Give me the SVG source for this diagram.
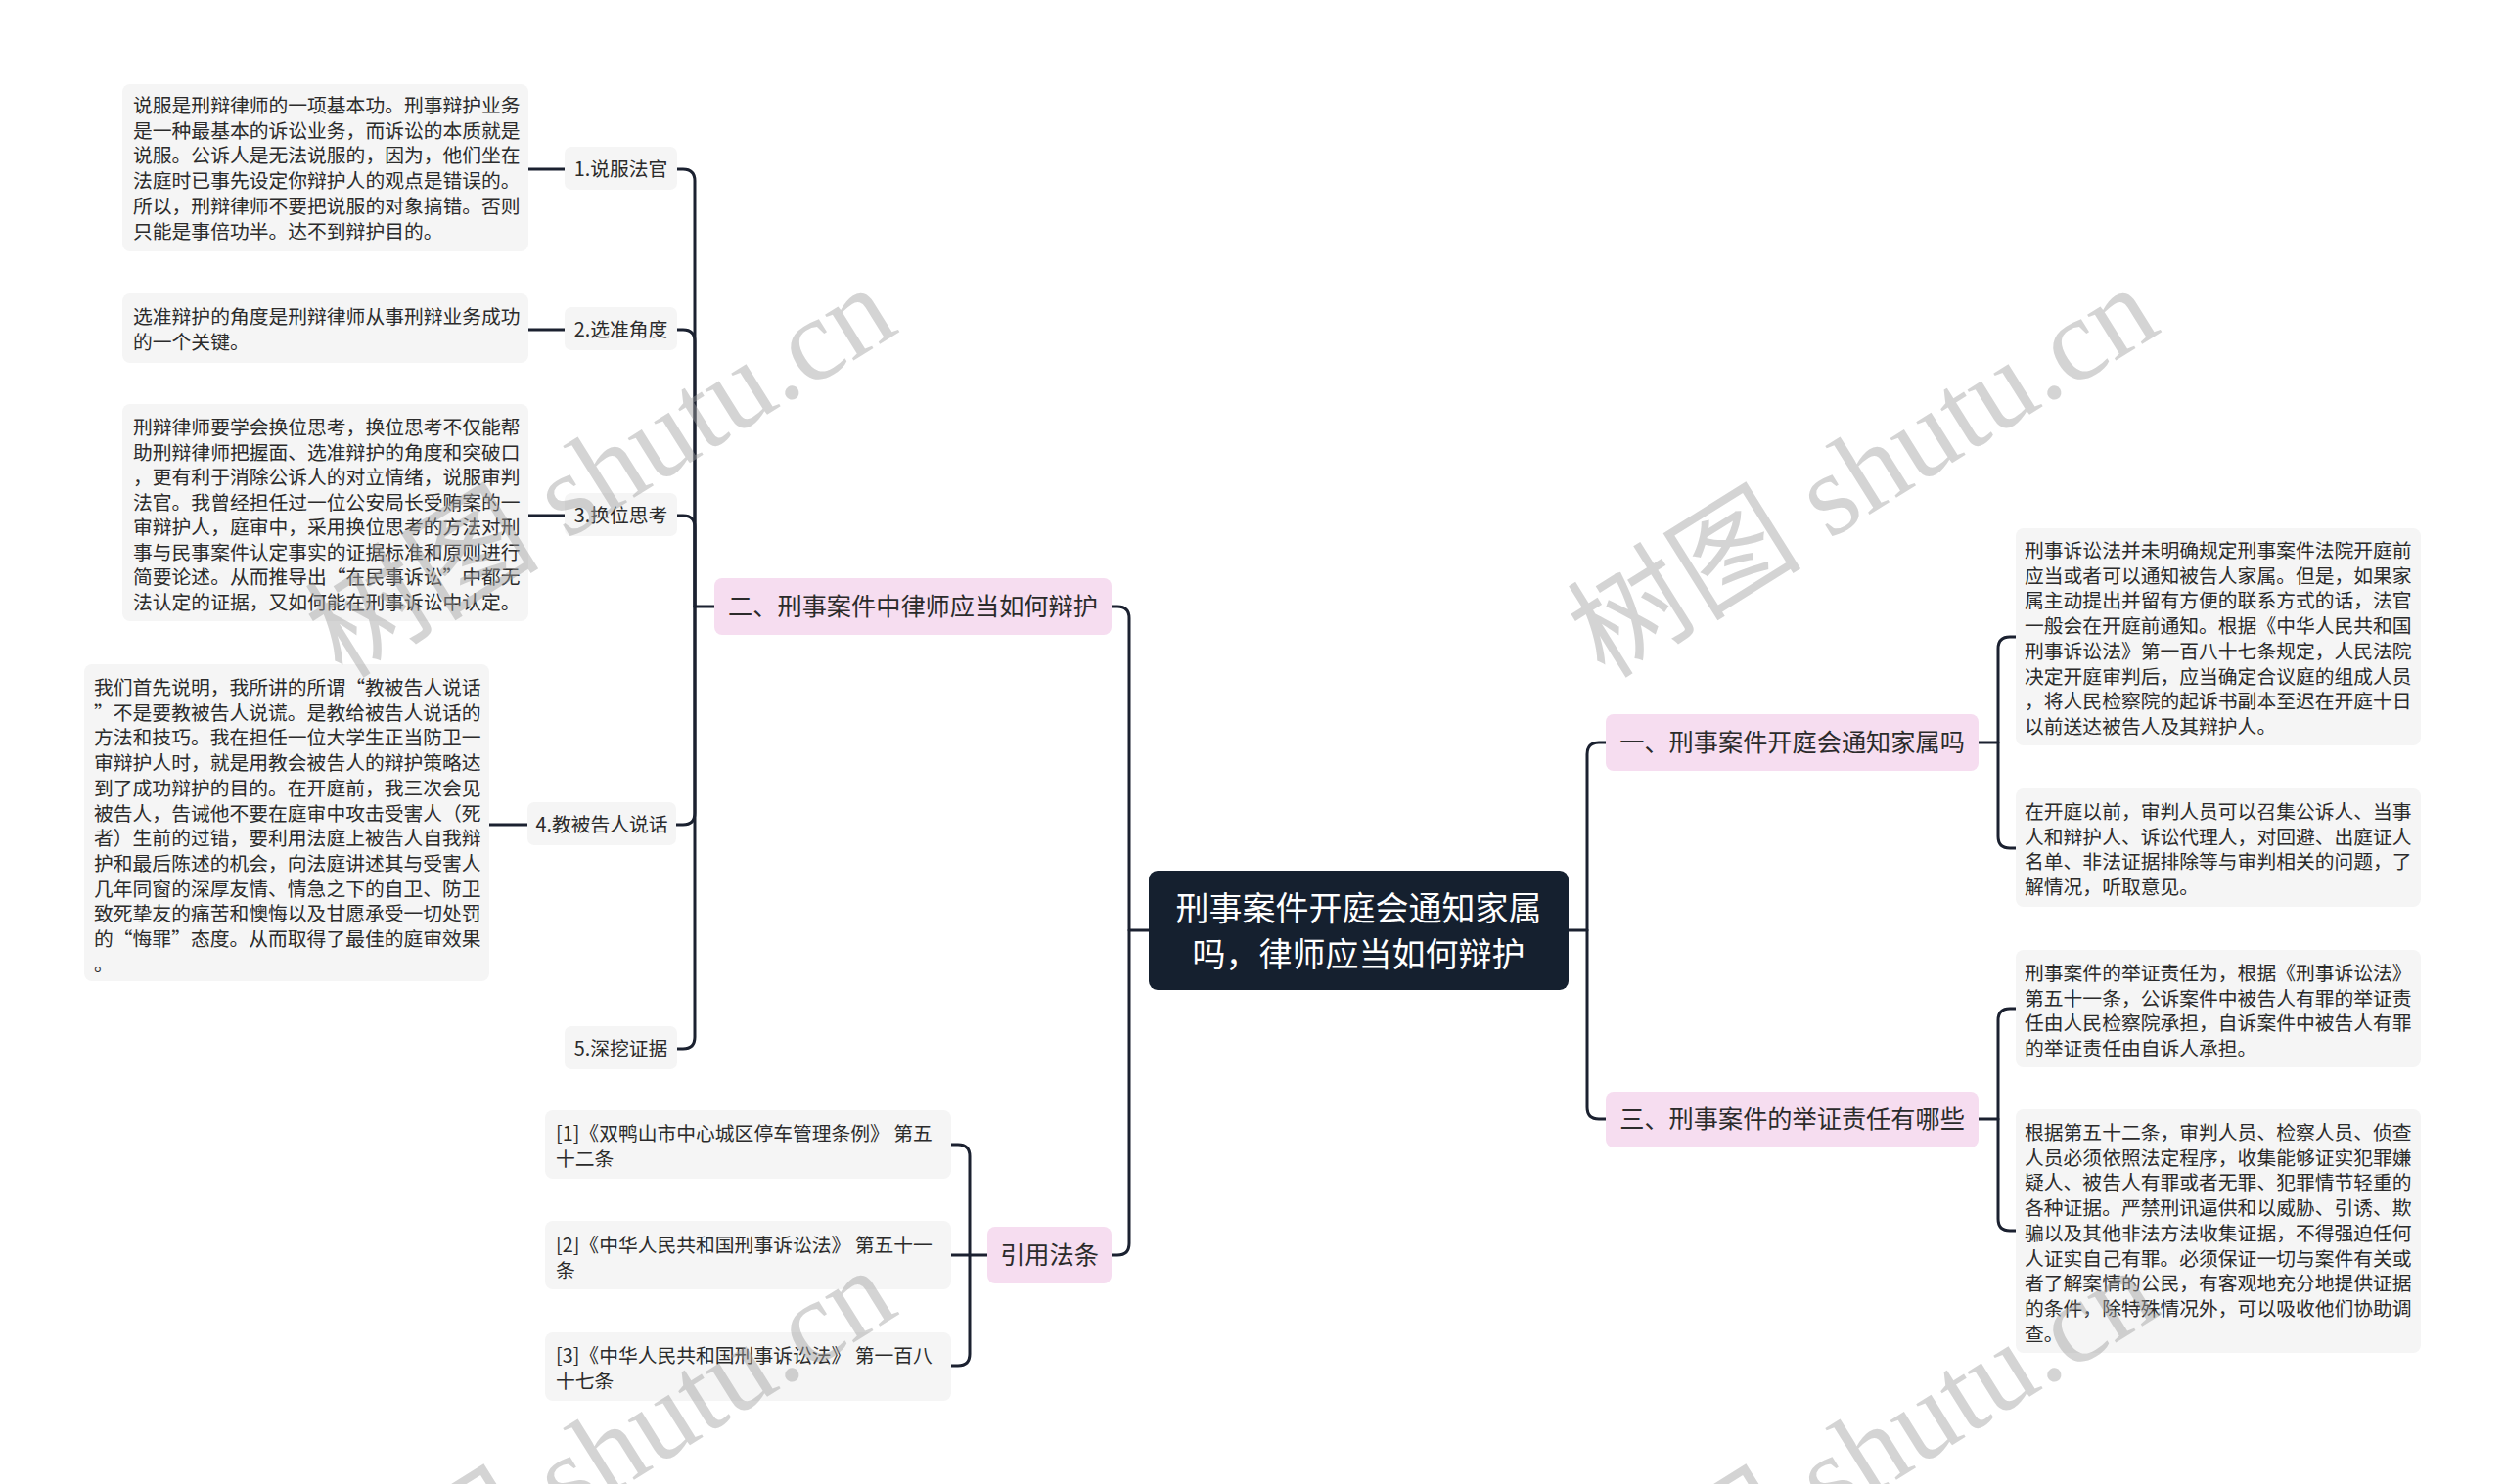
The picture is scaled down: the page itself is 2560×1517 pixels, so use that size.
<svg xmlns="http://www.w3.org/2000/svg" width="2560" height="1517" viewBox="0 0 2560 1517">
<style>
.bg{fill:#ffffff}
.leaf{fill:#f5f5f5}
.branch{fill:#f6ddf0}
.root{fill:#15202f}
.t{font-family:"Noto Sans CJK SC","Noto Sans",sans-serif;fill:#2b2b2b;font-size:19.8px}
.tb{font-family:"Noto Sans CJK SC","Noto Sans",sans-serif;fill:#2b2b2b;font-size:25.2px}
.tr{font-family:"Noto Sans CJK SC","Noto Sans",sans-serif;fill:#ffffff;font-size:34px}
.c{fill:none;stroke:#1b2130;stroke-width:3;stroke-linecap:round;stroke-linejoin:round}
.wm{font-family:"Liberation Serif","Noto Sans CJK SC",serif;font-size:120px;fill:#a0a0a0;fill-opacity:0.45}
</style>
<defs>
<text id="wmt" class="wm" x="0" y="0"><tspan font-family="Noto Sans CJK SC,sans-serif">树图</tspan> shutu.cn</text>
</defs>
<rect class="bg" x="0" y="0" width="2560" height="1517"/>

<g id="connectors">
<path class="c" d="M1174,951 H1154 V632 Q1154,620 1142,620 H1136"/>
<path class="c" d="M1154,951 V1271 Q1154,1283 1142,1283 H1136"/>
<path class="c" d="M1603,951 H1622 V771 Q1622,759 1634,759 H1641"/>
<path class="c" d="M1622,951 V1132 Q1622,1144 1634,1144 H1641"/>
<path class="c" d="M730,620 H710 V185 Q710,173 698,173 H692"/>
<path class="c" d="M710,620 V349 Q710,337 698,337 H692"/>
<path class="c" d="M710,620 V539 Q710,527 698,527 H692"/>
<path class="c" d="M710,620 V831 Q710,843 698,843 H691"/>
<path class="c" d="M710,620 V1060 Q710,1072 698,1072 H691"/>
<path class="c" d="M577,173 H540"/>
<path class="c" d="M577,337 H540"/>
<path class="c" d="M577,527 H540"/>
<path class="c" d="M539,843 H500"/>
<path class="c" d="M2022,759 H2042 V663 Q2042,651 2054,651 H2060"/>
<path class="c" d="M2042,759 V855 Q2042,867 2054,867 H2060"/>
<path class="c" d="M2022,1144 H2042 V1043 Q2042,1031 2054,1031 H2060"/>
<path class="c" d="M2042,1144 V1246 Q2042,1258 2054,1258 H2060"/>
<path class="c" d="M1009,1283 H991 V1182 Q991,1170 979,1170 H972"/>
<path class="c" d="M991,1283 H972"/>
<path class="c" d="M991,1283 V1384 Q991,1396 979,1396 H972"/>
</g>

<g id="root">
<rect class="root" x="1174" y="890" width="429" height="122" rx="9"/>
<text class="tr" text-anchor="middle"><tspan x="1388.5" y="941">刑事案件开庭会通知家属</tspan><tspan x="1388.5" y="988">吗，律师应当如何辩护</tspan></text>
</g>

<g id="b2">
<rect class="branch" x="730" y="591" width="406" height="58" rx="8"/>
<text class="tb" x="933" y="629" text-anchor="middle">二、刑事案件中律师应当如何辩护</text>
</g>
<g id="b4">
<rect class="branch" x="1009" y="1254" width="127" height="58" rx="8"/>
<text class="tb" x="1072.5" y="1292" text-anchor="middle">引用法条</text>
</g>
<g id="b1">
<rect class="branch" x="1641" y="730" width="381" height="58" rx="8"/>
<text class="tb" x="1831.5" y="768" text-anchor="middle">一、刑事案件开庭会通知家属吗</text>
</g>
<g id="b3">
<rect class="branch" x="1641" y="1116" width="381" height="57" rx="8"/>
<text class="tb" x="1831.5" y="1153" text-anchor="middle">三、刑事案件的举证责任有哪些</text>
</g>

<g id="s1">
<rect class="leaf" x="577" y="150" width="115" height="44" rx="7"/>
<text class="t" x="634.5" y="180" text-anchor="middle">1.说服法官</text>
</g>
<g id="s2">
<rect class="leaf" x="577" y="314" width="115" height="44" rx="7"/>
<text class="t" x="634.5" y="344" text-anchor="middle">2.选准角度</text>
</g>
<g id="s3">
<rect class="leaf" x="577" y="504" width="115" height="44" rx="7"/>
<text class="t" x="634.5" y="534" text-anchor="middle">3.换位思考</text>
</g>
<g id="s4">
<rect class="leaf" x="539" y="820" width="152" height="44" rx="7"/>
<text class="t" x="615" y="850" text-anchor="middle">4.教被告人说话</text>
</g>
<g id="s5">
<rect class="leaf" x="577" y="1049" width="115" height="44" rx="7"/>
<text class="t" x="634.5" y="1079" text-anchor="middle">5.深挖证据</text>
</g>

<g id="l1">
<rect class="leaf" x="125" y="86" width="415" height="171" rx="8"/>
<text class="t"><tspan x="136" y="115">说服是刑辩律师的一项基本功。刑事辩护业务</tspan><tspan x="136" dy="25.7">是一种最基本的诉讼业务，而诉讼的本质就是</tspan><tspan x="136" dy="25.7">说服。公诉人是无法说服的，因为，他们坐在</tspan><tspan x="136" dy="25.7">法庭时已事先设定你辩护人的观点是错误的。</tspan><tspan x="136" dy="25.7">所以，刑辩律师不要把说服的对象搞错。否则</tspan><tspan x="136" dy="25.7">只能是事倍功半。达不到辩护目的。</tspan></text>
</g>
<g id="l2">
<rect class="leaf" x="125" y="300" width="415" height="71" rx="8"/>
<text class="t"><tspan x="136" y="331">选准辩护的角度是刑辩律师从事刑辩业务成功</tspan><tspan x="136" dy="25.7">的一个关键。</tspan></text>
</g>
<g id="l3">
<rect class="leaf" x="125" y="413" width="415" height="222" rx="8"/>
<text class="t"><tspan x="136" y="444">刑辩律师要学会换位思考，换位思考不仅能帮</tspan><tspan x="136" dy="25.5">助刑辩律师把握面、选准辩护的角度和突破口</tspan><tspan x="136" dy="25.5">，更有利于消除公诉人的对立情绪，说服审判</tspan><tspan x="136" dy="25.5">法官。我曾经担任过一位公安局长受贿案的一</tspan><tspan x="136" dy="25.5">审辩护人，庭审中，采用换位思考的方法对刑</tspan><tspan x="136" dy="25.5">事与民事案件认定事实的证据标准和原则进行</tspan><tspan x="136" dy="25.5">简要论述。从而推导出“在民事诉讼”中都无</tspan><tspan x="136" dy="25.5">法认定的证据，又如何能在刑事诉讼中认定。</tspan></text>
</g>
<g id="l4">
<rect class="leaf" x="86" y="679" width="414" height="324" rx="8"/>
<text class="t"><tspan x="96" y="710">我们首先说明，我所讲的所谓“教被告人说话</tspan><tspan x="96" dy="25.7">”不是要教被告人说谎。是教给被告人说话的</tspan><tspan x="96" dy="25.7">方法和技巧。我在担任一位大学生正当防卫一</tspan><tspan x="96" dy="25.7">审辩护人时，就是用教会被告人的辩护策略达</tspan><tspan x="96" dy="25.7">到了成功辩护的目的。在开庭前，我三次会见</tspan><tspan x="96" dy="25.7">被告人，告诫他不要在庭审中攻击受害人（死</tspan><tspan x="96" dy="25.7">者）生前的过错，要利用法庭上被告人自我辩</tspan><tspan x="96" dy="25.7">护和最后陈述的机会，向法庭讲述其与受害人</tspan><tspan x="96" dy="25.7">几年同窗的深厚友情、情急之下的自卫、防卫</tspan><tspan x="96" dy="25.7">致死挚友的痛苦和懊悔以及甘愿承受一切处罚</tspan><tspan x="96" dy="25.7">的“悔罪”态度。从而取得了最佳的庭审效果</tspan><tspan x="96" dy="25.7">。</tspan></text>
</g>

<g id="r1">
<rect class="leaf" x="2060" y="540" width="414" height="222" rx="8"/>
<text class="t"><tspan x="2069" y="570">刑事诉讼法并未明确规定刑事案件法院开庭前</tspan><tspan x="2069" dy="25.7">应当或者可以通知被告人家属。但是，如果家</tspan><tspan x="2069" dy="25.7">属主动提出并留有方便的联系方式的话，法官</tspan><tspan x="2069" dy="25.7">一般会在开庭前通知。根据《中华人民共和国</tspan><tspan x="2069" dy="25.7">刑事诉讼法》第一百八十七条规定，人民法院</tspan><tspan x="2069" dy="25.7">决定开庭审判后，应当确定合议庭的组成人员</tspan><tspan x="2069" dy="25.7">，将人民检察院的起诉书副本至迟在开庭十日</tspan><tspan x="2069" dy="25.7">以前送达被告人及其辩护人。</tspan></text>
</g>
<g id="r2">
<rect class="leaf" x="2060" y="806" width="414" height="121" rx="8"/>
<text class="t"><tspan x="2069" y="837">在开庭以前，审判人员可以召集公诉人、当事</tspan><tspan x="2069" dy="25.7">人和辩护人、诉讼代理人，对回避、出庭证人</tspan><tspan x="2069" dy="25.7">名单、非法证据排除等与审判相关的问题，了</tspan><tspan x="2069" dy="25.7">解情况，听取意见。</tspan></text>
</g>
<g id="r3">
<rect class="leaf" x="2060" y="971" width="414" height="120" rx="8"/>
<text class="t"><tspan x="2069" y="1002">刑事案件的举证责任为，根据《刑事诉讼法》</tspan><tspan x="2069" dy="25.7">第五十一条，公诉案件中被告人有罪的举证责</tspan><tspan x="2069" dy="25.7">任由人民检察院承担，自诉案件中被告人有罪</tspan><tspan x="2069" dy="25.7">的举证责任由自诉人承担。</tspan></text>
</g>
<g id="r4">
<rect class="leaf" x="2060" y="1134" width="414" height="249" rx="8"/>
<text class="t"><tspan x="2069" y="1165">根据第五十二条，审判人员、检察人员、侦查</tspan><tspan x="2069" dy="25.7">人员必须依照法定程序，收集能够证实犯罪嫌</tspan><tspan x="2069" dy="25.7">疑人、被告人有罪或者无罪、犯罪情节轻重的</tspan><tspan x="2069" dy="25.7">各种证据。严禁刑讯逼供和以威胁、引诱、欺</tspan><tspan x="2069" dy="25.7">骗以及其他非法方法收集证据，不得强迫任何</tspan><tspan x="2069" dy="25.7">人证实自己有罪。必须保证一切与案件有关或</tspan><tspan x="2069" dy="25.7">者了解案情的公民，有客观地充分地提供证据</tspan><tspan x="2069" dy="25.7">的条件，除特殊情况外，可以吸收他们协助调</tspan><tspan x="2069" dy="25.7">查。</tspan></text>
</g>

<g id="c1">
<rect class="leaf" x="557" y="1135" width="415" height="70" rx="8"/>
<text class="t"><tspan x="568" y="1166">[1]《双鸭山市中心城区停车管理条例》 第五</tspan><tspan x="568" dy="25.7">十二条</tspan></text>
</g>
<g id="c2">
<rect class="leaf" x="557" y="1248" width="415" height="70" rx="8"/>
<text class="t"><tspan x="568" y="1280">[2]《中华人民共和国刑事诉讼法》 第五十一</tspan><tspan x="568" dy="25.7">条</tspan></text>
</g>
<g id="c3">
<rect class="leaf" x="557" y="1362" width="415" height="70" rx="8"/>
<text class="t"><tspan x="568" y="1393">[3]《中华人民共和国刑事诉讼法》 第一百八</tspan><tspan x="568" dy="25.7">十七条</tspan></text>
</g>

<g id="watermarks">
<use href="#wmt" transform="translate(350,695) rotate(-32)"/>
<use href="#wmt" transform="translate(1640,695) rotate(-32)"/>
<use href="#wmt" transform="translate(350,1699) rotate(-32)"/>
<use href="#wmt" transform="translate(1640,1699) rotate(-32)"/>
</g>
</svg>
